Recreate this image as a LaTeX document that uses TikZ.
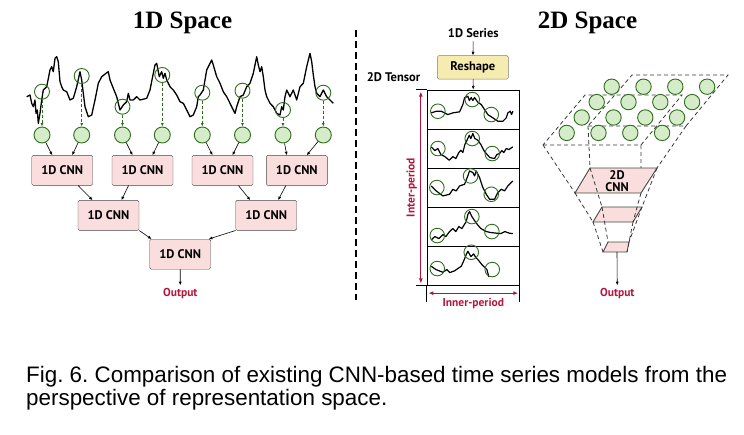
\documentclass[tikz,border=0pt]{standalone}
\usepackage{fontspec}
\setmainfont{Liberation Serif}
\newfontfamily\labelfont{PT Sans}
\newfontfamily\capfont{Liberation Sans}
\usetikzlibrary{arrows.meta}
\definecolor{leafgreen}{RGB}{46,110,30}
\definecolor{leaffill}{RGB}{213,236,200}
\definecolor{cnnpink}{RGB}{250,222,222}
\definecolor{reshapefill}{RGB}{246,236,176}
\definecolor{periodred}{RGB}{180,20,60}
\definecolor{edgegray}{RGB}{70,70,70}
\frenchspacing

\begin{document}
\begin{tikzpicture}[x=1pt, y=-1pt,
    lbl/.style={font=\labelfont\bfseries\fontsize{12.5}{13}\selectfont},
    cnn/.style={lbl, draw=edgegray, fill=cnnpink, rounded corners=1.5pt,
      minimum width=61pt, minimum height=30pt, inner sep=0pt},
    probe/.style={circle, draw=leafgreen, line width=0.9pt, minimum size=15pt, inner sep=0pt},
    cell/.style={circle, draw=leafgreen, line width=0.9pt, fill=leaffill, minimum size=16pt, inner sep=0pt},
    series/.style={line width=1.3pt, line join=round},
    flow/.style={-{Latex[length=3.5pt, width=3pt]}, line width=0.6pt},
    pick/.style={leafgreen, dash pattern=on 3pt off 2pt, line width=0.8pt,
      -{Latex[length=3.5pt, width=3pt]}},
    period/.style={periodred, line width=1pt, {Latex[length=5pt, width=4pt]}-{Latex[length=5pt, width=4pt]}},
    hull/.style={edgegray!80!black, dash pattern=on 4pt off 3pt, line width=0.8pt},
    layer/.style={draw=edgegray, line width=0.9pt, fill=cnnpink},
    redtext/.style={lbl, periodred, font=\labelfont\bfseries\fontsize{11.5}{12}\selectfont},
    title/.style={font=\bfseries\fontsize{25}{27}\selectfont}]
  \useasboundingbox (0,0) rectangle (744,434);

  % Titles
  \node[title] (t1) at (182.5,23) {1D Space};
  \node[title] (t2) at (587.5,23) {2D Space};

  % Divider
  \draw[line width=1.2pt, dash pattern=on 7pt off 4pt] (356,30) -- (356,300);

  % ---- 1D space ----
  \draw[series] plot coordinates {
    (26.7,96.7) (30,95) (31.7,103.3) (33.3,106.7) (35,100) (36,113.3) (37.3,110)
    (38.3,123.3) (40,113.3) (41.7,100) (43.3,90) (46.7,86.7) (50,70) (51.7,66.7)
    (53.3,71.7) (55,58.3) (56.7,56.7) (58.3,61.7) (60,81.7) (61.7,86.7) (63.3,90)
    (66.7,91.7) (70,100) (73.3,98.3) (76.7,86.7) (80,71.7) (81.7,80) (83.3,93.3)
    (85,106.7) (88.3,116.7) (91.7,115) (95,100) (98.3,83.3) (101.7,76.7) (106,73.3)
    (108.3,71.7) (110,80) (113.3,88.3) (116.7,96.7) (120,110) (123.3,105) (126.7,101.7)
    (128.3,93.3) (130,100) (133.3,100) (136.7,96.7) (140,100) (146.7,98.3) (150,90)
    (153.3,73.3) (155,65) (156.7,63.3) (159.3,76.7) (161.7,71.7) (163.3,78.3) (165,73.3)
    (166.7,80) (170,86.7) (173.3,90) (176.7,95) (180,101.7) (183.3,103.3) (186.7,110)
    (190,116.7) (193.3,115) (196.7,106.7) (198.3,96.7) (200,95) (203.3,90) (206.7,70)
    (210,63.3) (211.7,60) (213.3,65) (216.7,76.7) (220,83.3) (223.3,91.7) (226.7,96.7)
    (230,103.3) (233.3,110) (235,113.3) (236.7,106.7) (240,96.7) (243.3,95) (246.7,86.7)
    (250,83.3) (253.3,73.3) (255,65) (256.7,56.7) (258.3,65) (260,71.7) (261.7,66.7)
    (263.3,76.7) (265,90) (266.7,96.7) (270,103.3) (273.3,106.7) (276.7,113.3) (280,115)
    (281.7,106.7) (283.3,110) (285,96.7) (286.7,90) (290,96.7) (293.3,90) (296.7,100)
    (300,86.7) (303.3,83.3) (306.7,66.7) (310,53.3) (311.7,61.7) (313.3,75) (315,86.7)
    (316.7,93.3) (320,96.7) (323.3,90) (326.7,96.7) (330,100) (333.3,103.3)};
  \foreach \i/\x/\y in {1/42/91.7, 2/81.7/76, 3/122.5/106.7, 4/162.3/75,
                        5/202.3/92.7, 6/242.5/90.7, 7/283/110, 8/323.3/92.7} {
    \node[probe] (p\i) at (\x,\y) {};
    \node[cell] (q\i) at (\x,135) {};
    \draw[pick] (p\i) -- (q\i);
  }

  \node[cnn] (a1) at (62.2,170.4) {1D CNN};
  \node[cnn] (a2) at (142.5,170.4) {1D CNN};
  \node[cnn] (a3) at (222.5,170.4) {1D CNN};
  \node[cnn] (a4) at (296.8,170.4) {1D CNN};
  \node[cnn] (b1) at (108.5,215.3) {1D CNN};
  \node[cnn] (b2) at (266.2,215.3) {1D CNN};
  \node[cnn] (c1) at (180.2,254.2) {1D CNN};
  \node[redtext] (o1) at (180.3,294) {Output};

  \foreach \i/\j/\s in {1/1/-10, 2/1/10, 3/2/-10, 4/2/10, 5/3/-10, 6/3/10, 7/4/-10, 8/4/10}
    \draw[flow] (q\i) -- ([xshift=\s pt]a\j.north);
  \draw[flow] ([xshift=16pt]a1.south) -- ([xshift=-16pt]b1.north);
  \draw[flow] ([xshift=-14pt]a2.south) -- ([xshift=13pt]b1.north);
  \draw[flow] ([xshift=16pt]a3.south) -- ([xshift=-16pt]b2.north);
  \draw[flow] ([xshift=-11pt]a4.south) -- ([xshift=12pt]b2.north);
  \draw[flow] (b1.south east) -- ([xshift=2pt]c1.north west);
  \draw[flow] (b2.south west) -- ([xshift=-2pt]c1.north east);
  \draw[flow] (c1) -- (o1);

  % ---- 2D tensor ----
  \node[lbl] (s1) at (473.3,33.3) {1D Series};
  \node[lbl, draw=edgegray!70, fill=reshapefill, rounded corners=1.5pt,
        minimum width=71pt, minimum height=23.5pt, inner sep=0pt] (rs) at (472.8,67.3) {Reshape};
  \node[lbl] (tn) at (393.5,77) {2D Tensor};
  \foreach \r/\y in {1/109.5, 2/148.5, 3/187.5, 4/226.5, 5/265.5}
    \node[draw, line width=0.9pt, minimum width=92pt, minimum height=39pt, inner sep=0pt] (row\r) at (473.3,\y) {};
  \draw[flow] (s1) -- (rs);
  \draw[flow] (rs) -- (row1.north);
  \draw[line width=0.9pt] ([xshift=-10.6pt]row1.north west) -- (row1.north west);
  \draw[line width=0.9pt] ([xshift=-10.6pt]row5.south west) -- (row5.south west);
  \draw[line width=0.9pt] (row5.south west) -- ++(0,16.5);
  \draw[line width=0.9pt] (row5.south east) -- ++(0,16.5);
  \draw[period] ([xshift=-6pt,yshift=-2pt]row1.north west) -- ([xshift=-6pt,yshift=2pt]row5.south west)
    node[redtext, midway, rotate=90, above] (ip) {Inter-period};
  \draw[period] ([xshift=1.5pt,yshift=-7.7pt]row5.south west) -- ([xshift=-1.5pt,yshift=-7.7pt]row5.south east)
    node[redtext, midway, below=1pt] (np) {Inner-period};

  \begin{scope}[shift={(row1.north west)}]
    \draw[series, line width=1.2pt] plot coordinates {(4.4,23.3) (9.4,21.7) (14.4,21.7) (17.7,23.3)
      (21,25) (26,23.3) (32.7,22.3) (36,15) (37.7,8.3) (41,6.7) (42.5,11) (44.4,8) (46,11)
      (47.7,8) (51,12.7) (54.4,15) (57.7,20) (61,25) (66,28.3) (71,31.7) (76,31.7) (79.4,28.3)
      (81,23.3) (83.4,21.7) (84.7,25) (86,21.7)};
    \foreach \k/\x/\y in {1/11/21.7, 2/45.4/10, 3/64.4/25}
      \node[probe, minimum size=14.6pt] (g1\k) at (\x,\y) {};
  \end{scope}
  \begin{scope}[shift={(row2.north west)}]
    \draw[series, line width=1.2pt] plot coordinates {(4.4,18.3) (8,22) (11,20) (14,26) (18,28)
      (22.4,31.7) (26,28) (29,30) (32,24) (34,21.7) (36,24) (38,16) (40,12) (42.4,6.7) (44,10)
      (46,5) (48,10) (51,11.7) (54,16) (57,22) (59.4,25) (63,29) (67.7,30) (70,26) (72.7,25)
      (75,22) (77,24) (79.4,20) (82,21) (86,18.3)};
    \foreach \k/\x/\y in {1/11/20, 2/45.4/10, 3/65.4/25}
      \node[probe, minimum size=14.6pt] (g2\k) at (\x,\y) {};
  \end{scope}
  \begin{scope}[shift={(row3.north west)}]
    \draw[series, line width=1.2pt] plot coordinates {(4.4,18.4) (9.4,23.4) (16,28.4) (22.7,26.7)
      (26,21.7) (29.3,23.4) (32.7,18.4) (37.7,16.7) (41,8.4) (42.7,3.4) (46,5) (47.7,8.4)
      (49.4,3.4) (52.7,10) (56,20) (59.4,26.7) (62.7,31.7) (67.7,31.7) (71,25) (74.4,21.7)
      (77.7,23.4) (81,18.4) (84.4,15) (86,13.4)};
    \foreach \k/\x/\y in {1/10/20, 2/43.7/8.4, 3/64.4/26.7}
      \node[probe, minimum size=14.6pt] (g3\k) at (\x,\y) {};
  \end{scope}
  \begin{scope}[shift={(row4.north west)}]
    \draw[series, line width=1.2pt] plot coordinates {(4.4,33.3) (8,30) (12,32) (16,28) (19,30)
      (22.7,25) (26,22) (29,25) (32,20) (35,22) (39.4,15) (41,8) (42.7,5) (45,10) (49.4,16.6)
      (54,22) (59.4,25) (64,26) (69.4,26.6) (74,27) (78,25) (82.7,26.7) (86,27)};
    \foreach \k/\x/\y in {1/10.4/29, 2/45/10, 3/65/25}
      \node[probe, minimum size=14.6pt] (g4\k) at (\x,\y) {};
  \end{scope}
  \begin{scope}[shift={(row5.north west)}]
    \draw[series, line width=1.2pt] plot coordinates {(4.4,20.7) (9,24) (16,26.7) (20,24) (23,27)
      (27.7,25.3) (31,23) (34.4,20.7) (37,15) (39.4,9) (41,5.7) (44,11) (46.7,8.3) (49,12)
      (51,13.9) (55,19) (60,23.9) (62,31.3)};
    \foreach \k/\x/\y in {1/10.4/23, 2/44.4/6.7, 3/65.4/24}
      \node[probe, minimum size=14.6pt] (g5\k) at (\x,\y) {};
  \end{scope}

  % ---- 2D space ----
  \coordinate (fa) at (543,145); \coordinate (fb) at (641,145);
  \coordinate (fc) at (682,95);  \coordinate (fd) at (585,95);
  \coordinate (ba) at (588,126); \coordinate (bb) at (686,126);
  \coordinate (bc) at (728,75);  \coordinate (bd) at (632,75);
  \coordinate (la) at (575,193); \coordinate (lb) at (641,193);
  \coordinate (lc) at (657,168); \coordinate (ld) at (590,168);
  \coordinate (ma) at (593,222); \coordinate (mb) at (633,222);
  \coordinate (mc) at (642,207); \coordinate (md) at (602,207);
  \coordinate (na) at (603,252); \coordinate (nb) at (627,252);
  \coordinate (nc) at (629,242); \coordinate (nd) at (608,242);

  \draw[hull] (fa) -- (fb) -- (fc) -- (fd) -- cycle;
  \draw[hull] (ba) -- (bb) -- (bc) -- (bd) -- cycle;
  \draw[hull] (fa) -- (la) (fb) -- (lb) (ba) -- (ld) (bb) -- (lc);
  \draw[layer] (la) -- (lb) -- (lc) -- (ld) -- cycle;
  \draw[layer] (ma) -- (mb) -- (mc) -- (md) -- cycle;
  \draw[layer] (na) -- (nb) -- (nc) -- (nd) -- cycle;
  \draw[hull] (la) -- (ma) (lb) -- (mb) (ld) -- (md) (lc) -- (mc);
  \draw[hull] (ma) -- (na) (mb) -- (nb) (md) -- (nd) (mc) -- (nc);
  \node[lbl, align=center, inner sep=0pt] (cn) at (617,181.5) {2D\\[-1pt]CNN};

  \foreach \r in {0,...,3}
    \foreach \c in {0,...,3}
      \node[cell, minimum size=15.4pt] (h\r\c) at (611.7-15*\r+31.8*\c, 86.7+15.4*\r) {};

  \coordinate (nm) at (617,252);
  \node[redtext] (o2) at (617.3,294) {Output};
  \draw[flow] (nm) -- (o2);

  % Caption
  \node[anchor=base west, inner sep=0pt, font=\capfont\fontsize{22.4}{24}\selectfont] (cap1) at (26,382.3)
    {Fig. 6. Comparison of existing CNN-based time series models from the};
  \node[anchor=base west, inner sep=0pt, font=\capfont\fontsize{22.4}{24}\selectfont] (cap2) at (26,405.7)
    {perspective of representation space.};
\end{tikzpicture}
\end{document}
